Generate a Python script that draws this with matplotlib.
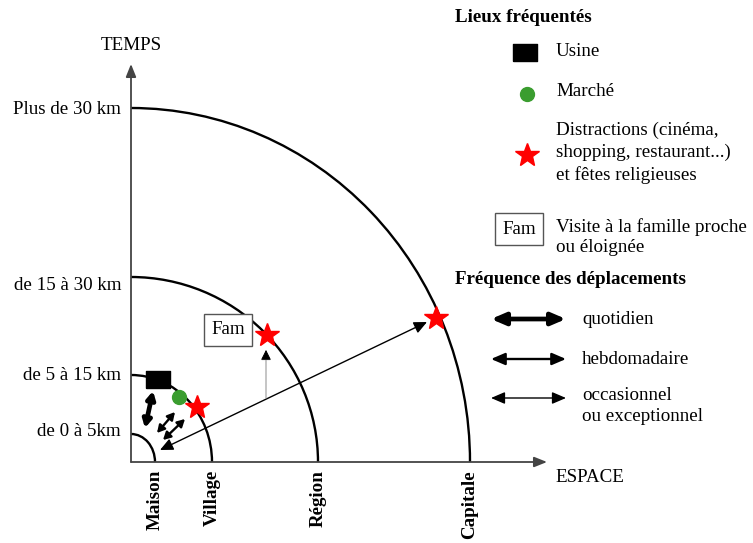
import numpy as np
import matplotlib.pyplot as plt
from matplotlib.patches import Arc

plt.rcParams['font.family'] = ['Liberation Serif', 'DejaVu Serif']

# zones : demi-axes des arcs (espace en x, temps en y)
zones = ['Maison', 'Village', 'Région', 'Capitale']
zone_rx = [24, 81, 187, 339]
zone_ry = [28, 87, 185, 354]
distances = ['de 0 à 5km', 'de 5 à 15 km', 'de 15 à 30 km', 'Plus de 30 km']
distance_y = [30, 87, 177, 352]

# lieux fréquentés
usine = (26.5, 83.5)
marche = (48, 65)
distractions_x = [66, 136, 305]
distractions_y = [55, 127, 144]
fam = (97, 132)

# déplacements (départ, arrivée, fréquence)
trajets = [
    ((14, 34), (22, 71), 'quotidien'),
    ((26, 29), (44, 50), 'hebdomadaire'),
    ((32, 22), (54, 43), 'hebdomadaire'),
    ((29, 12), (296, 140), 'occasionnel'),
]
freq_noms = ['quotidien', 'hebdomadaire', 'occasionnel\nou exceptionnel']
freq_lw = {'quotidien': 3.4, 'hebdomadaire': 1.7, 'occasionnel': 1.0}

fs = 13.7
rect = [(-1, -0.72), (1, -0.72), (1, 0.72), (-1, 0.72), (-1, -0.72)]

fig = plt.figure(figsize=(7.53, 5.43), dpi=100)
ax = fig.add_axes([0, 0, 1, 1])
ax.set_xlim(-131, 622)
ax.set_ylim(-81, 462)
ax.axis('off')


def fleche(p0, p1, lw, style='<|-|>', color='black', hl=0.6, hw=0.3, ms=12):
    ax.annotate('', xy=p1, xytext=p0,
                arrowprops=dict(arrowstyle=f'{style},head_length={hl},head_width={hw}',
                                color=color, lw=lw, mutation_scale=ms,
                                shrinkA=0, shrinkB=0))


# axes temps / espace
fleche((0, 0), (0, 398), 1.3, style='-|>', color='#444444', hl=0.55, hw=0.22, ms=14)
fleche((0, 0), (416, 0), 1.3, style='-|>', color='#444444', hl=0.55, hw=0.22, ms=14)
ax.text(0, 417, 'TEMPS', ha='center', va='center', fontsize=fs)
ax.text(424, -16, 'ESPACE', ha='left', va='center', fontsize=fs)

for nom, rx, ry in zip(zones, zone_rx, zone_ry):
    ax.add_patch(Arc((0, 0), 2 * rx, 2 * ry, theta1=0, theta2=90, color='black', lw=1.7))
    ax.text(rx, -8, nom, rotation=90, ha='center', va='top', fontsize=fs, fontweight='bold')
for lab, y in zip(distances, distance_y):
    ax.text(-10, y, lab, ha='right', va='center', fontsize=fs)

# trajets
for p0, p1, f in trajets:
    if f == 'occasionnel':
        fleche(p0, p1, freq_lw[f], hl=0.65, hw=0.3, ms=12)
    else:
        fleche(p0, p1, freq_lw[f], hl=0.55, hw=0.3, ms=8)
fleche((135, 64), (135, 112), 0.8, style='-|>', color='#999999', hl=0.5, hw=0.25, ms=12)
fleche((135, 105), (135, 112), 0.6, style='-|>', hl=0.5, hw=0.25, ms=12)

# lieux
ax.plot(*usine, marker=rect, color='black', markersize=17, linestyle='none')
ax.plot(*marche, marker='o', color='#3a9d2f', markersize=10, linestyle='none')
ax.plot(distractions_x, distractions_y, marker='*', color='#ff0000', markersize=18,
        linestyle='none')
ax.text(*fam, 'Fam', ha='center', va='center', fontsize=fs,
        bbox=dict(boxstyle='square,pad=0.4', fc='white', ec='#555555', lw=1))

# légende
ax.text(324, 444, 'Lieux fréquentés', ha='left', va='center', fontsize=fs,
        fontweight='bold')
ax.plot(394, 410, marker=rect, color='black', markersize=17)
ax.text(425, 410, 'Usine', ha='left', va='center', fontsize=fs)
ax.plot(396, 368, marker='o', color='#3a9d2f', markersize=10)
ax.text(425, 371, 'Marché', ha='left', va='center', fontsize=fs)
ax.plot(396, 307, marker='*', color='#ff0000', markersize=18)
ax.text(425, 309, 'Distractions (cinéma,\nshopping, restaurant...)\net fêtes religieuses',
        ha='left', va='center', fontsize=fs, linespacing=1.35)
ax.text(388, 233, 'Fam', ha='center', va='center', fontsize=fs,
        bbox=dict(boxstyle='square,pad=0.4', fc='white', ec='#555555', lw=1))
ax.text(425, 225, 'Visite à la famille proche\nou éloignée', ha='left', va='center',
        fontsize=fs, linespacing=1.25)

ax.text(324, 182, 'Fréquence des déplacements', ha='left', va='center', fontsize=fs,
        fontweight='bold')
freq_y = [143, 103, 64]
freq_style = ['quotidien', 'hebdomadaire', 'occasionnel']
for nom, y, f in zip(freq_noms, freq_y, freq_style):
    fleche((360, y), (435, y), freq_lw[f], hl=0.7, hw=0.3, ms=12)
    yt = y - 8 if '\n' in nom else y
    ax.text(451, yt, nom, ha='left', va='center', fontsize=fs, linespacing=1.25)

fig.savefig('out.png', dpi=100)
